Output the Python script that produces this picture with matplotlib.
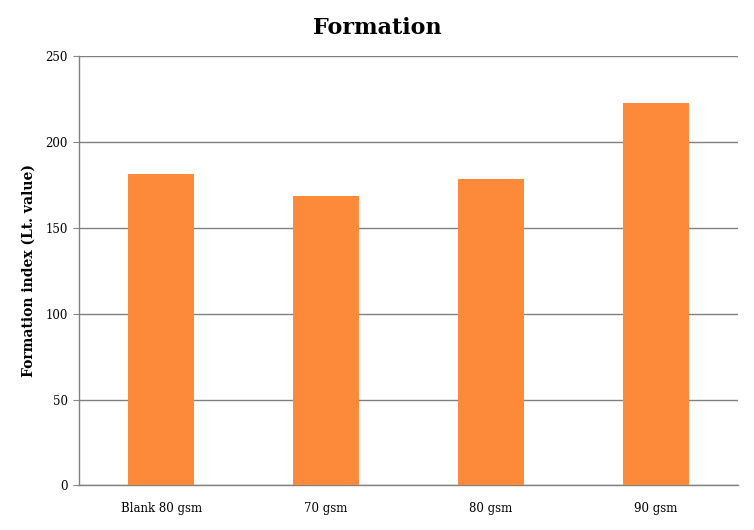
import matplotlib
matplotlib.use("Agg")
import matplotlib.pyplot as plt

categories = ["Blank 80 gsm", "70 gsm", "80 gsm", "90 gsm"]
values = [181.3, 168.5, 178.5, 222.8]
yticks = [0, 50, 100, 150, 200, 250]

plt.rcParams['font.family'] = ['DejaVu Serif']

fig = plt.figure(figsize=(7.54, 5.30), dpi=100)
ax = fig.add_axes([0.1048, 0.084, 0.8740, 0.810])

x = range(len(categories))
ax.bar(x, values, width=0.4, color='#FD8A3A', zorder=3)
ax.set_xlim(-0.5, len(categories) - 0.5)
ax.set_ylim(0, 250)
ax.set_yticks(yticks)
ax.set_xticks(list(x))
ax.set_xticklabels(categories, fontsize=8.5)
ax.tick_params(axis='y', labelsize=8.5, length=4, color='#868686', pad=4)
ax.tick_params(axis='x', length=0, pad=12)
ax.yaxis.grid(True, color='#808080', linewidth=1, zorder=0)
for s in ['top', 'right']:
    ax.spines[s].set_visible(False)
for s in ['left', 'bottom']:
    ax.spines[s].set_color('#808080')
    ax.spines[s].set_linewidth(1)
ax.set_ylabel("Formation index (Lt. value)", fontsize=10, fontweight='bold', labelpad=7)
fig.suptitle("Formation", fontsize=16, fontweight='bold', y=0.968)

fig.savefig("out.png", dpi=100)
